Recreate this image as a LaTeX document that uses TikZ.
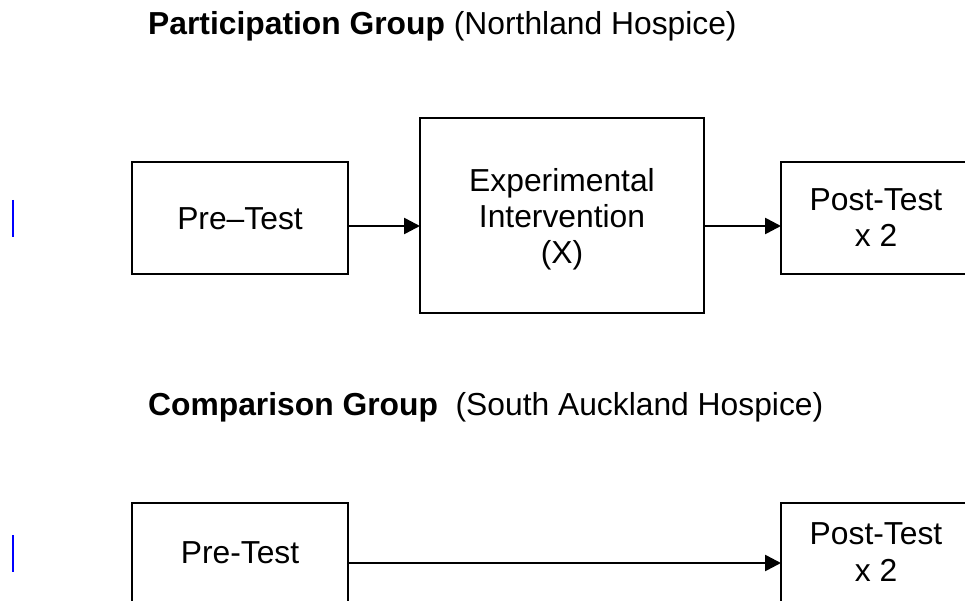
\documentclass[tikz,border=0pt]{standalone}
\usepackage{fontspec}
\setmainfont{Liberation Sans}
\usetikzlibrary{arrows.meta}
\begin{document}
\begin{tikzpicture}[x=1pt,y=-1pt,
  boxnode/.style={draw=black,line width=2.6pt,inner sep=0pt,outer sep=0pt},
  txt/.style={anchor=base,inner sep=0pt,font=\fontsize{31.8}{36}\selectfont},
  ttl/.style={anchor=base west,inner sep=0pt,font=\fontsize{31.8}{36}\selectfont},
  arr/.style={line width=2.6pt,-{Triangle[length=16pt,width=16pt]}},
  cursor/.style={draw=blue,line width=2.5pt}]
\useasboundingbox (0,0) rectangle (965,601);
\clip (0,0) rectangle (965,601);
% titles
\node[ttl] (t1) at (148,35) {\textbf{Participation Group} (Northland Hospice)};
\node[ttl] (t2) at (148,415) {\textbf{Comparison Group}\ \ (South Auckland Hospice)};
% boxes (top row)
\node[boxnode,minimum width=216pt,minimum height=112pt] (pre1) at (240,218) {};
\node[boxnode,minimum width=284pt,minimum height=195pt] (exp) at (562,215.5) {};
\node[boxnode,minimum width=190pt,minimum height=112pt] (post1) at (876,218) {};
% boxes (bottom row)
\node[boxnode,minimum width=216pt,minimum height=112pt] (pre2) at (240,559) {};
\node[boxnode,minimum width=190pt,minimum height=112pt] (post2) at (876,559) {};
% texts
\node[txt] (pre1t) at (240,230) {Pre–Test};
\node[txt] (expt1) at (562,192) {Experimental};
\node[txt] (expt2) at (562,228) {Intervention};
\node[txt] (expt3) at (562,264) {(X)};
\node[txt] (post1t1) at (876,211) {Post-Test};
\node[txt] (post1t2) at (876,247) {x 2};
\node[txt] (pre2t) at (240,563) {Pre-Test};
\node[txt] (post2t1) at (876,544) {Post-Test};
\node[txt] (post2t2) at (876,581) {x 2};
% connectors
\draw[arr] (pre1.east |- 0,226) -- (exp.west |- 0,226);
\draw[arr] (exp.east |- 0,226) -- (post1.west |- 0,226);
\draw[arr] (pre2.east |- 0,563) -- (post2.west |- 0,563);
% text cursors
\draw[cursor] (13,200) -- (13,237);
\draw[cursor] (13,535) -- (13,572);
\end{tikzpicture}
\end{document}
